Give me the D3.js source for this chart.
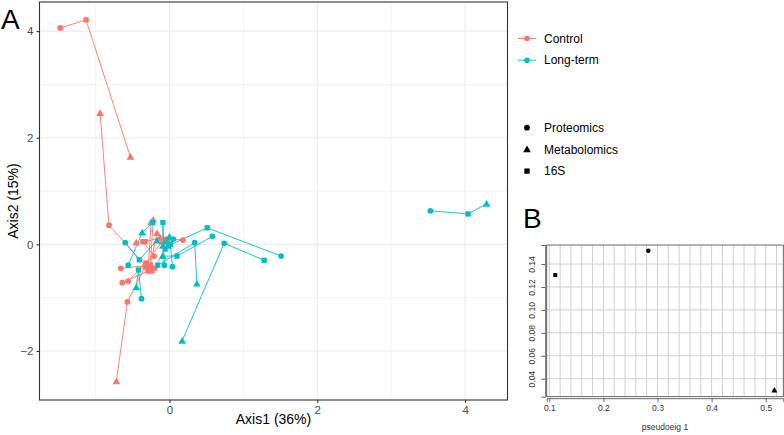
<!DOCTYPE html>
<html><head><meta charset="utf-8">
<script src="https://cdn.jsdelivr.net/npm/d3@7"></script>
<style>body{margin:0;background:#fff}svg{display:block;font-family:"Liberation Sans",Arial,Helvetica,sans-serif}</style>
</head><body><svg id="c" width="784" height="435"></svg>
<script>
// ---------------- data ----------------
const groups = ["Control", "Long-term"];
const groupColors = ["#F8766D", "#00BFC4"];
const omics = ["Proteomics", "Metabolomics", "16S"];
// each sample: [Proteomics [x,y], Metabolomics [x,y], 16S [x,y]]
const controlSamples = [
  [[-1.48, 4.06], [-0.53, 1.64], [-1.13, 4.21]],
  [[-0.82, 0.36], [-0.94, 2.46], [-0.30, -0.44]],
  [[-0.57, -1.08], [-0.72, -2.57], [-0.33, -0.42]],
  [[-0.66, -0.45], [-0.22, 0.46], [-0.26, -0.39]],
  [[-0.64, -0.72], [-0.25, 0.41], [-0.29, -0.50]],
  [[-0.56, -0.69], [-0.10, 0.05], [-0.32, -0.35]],
  [[-0.21, -0.22], [-0.45, 0.03], [-0.36, 0.05]],
  [[0.18, 0.08], [-0.13, 0.12], [-0.33, 0.05]],
  [[-0.04, 0.10], [-0.17, 0.21], [-0.27, -0.44]],
  [[-0.20, -0.45], [-0.02, 0.05], [-0.24, -0.50]]
];
const longtermSamples = [
  [[3.53, 0.63], [4.29, 0.76], [4.04, 0.57]],
  [[0.74, 0.02], [0.17, -1.81], [1.28, -0.30]],
  [[1.51, -0.22], [-0.02, -0.03], [0.51, 0.31]],
  [[0.34, 0.03], [0.37, -0.74], [-0.16, -0.39]],
  [[0.58, 0.15], [-0.09, -0.22], [0.10, -0.22]],
  [[-0.60, 0.03], [-0.17, 0.07], [-0.41, -0.29]],
  [[-0.38, -1.02], [-0.45, -0.81], [-0.42, -0.48]],
  [[-0.56, -0.39], [-0.37, 0.22], [-0.23, 0.41]],
  [[-0.07, -0.39], [-0.09, -0.03], [-0.09, 0.41]],
  [[0.05, 0.10], [-0.05, 0.06], [0.01, 0.00]],
  [[0.04, -0.42], [0.00, 0.14], [-0.06, -0.09]]
];
const axisATicksX = [0, 2, 4];
const axisATicksY = [-2, 0, 2, 4];
const axisAMinorX = [-1, 1, 3];
const axisAMinorY = [-1, 1, 3];
// panel B: pseudo-eigenvalues per omics layer
const pseudoEig1 = [0.283, 0.516, 0.111];
const pseudoEig2 = [0.1516, 0.0296, 0.1304];
const bTicksX = [0.1, 0.2, 0.3, 0.4, 0.5];
const bTicksY = [0.04, 0.06, 0.08, 0.10, 0.12, 0.14];

// ---------------- drawing ----------------
const svg = d3.select("#c");
const shapeSym = [d3.symbolCircle, d3.symbolTriangle, d3.symbolSquare];
const shapeSize = [26, 26, 28];

// Panel A
const A = {l: 39.5, r: 507.5, t: 2, b: 400};
const xA = d3.scaleLinear().domain([-1.76, 4.574]).range([A.l, A.r]);
const yA = d3.scaleLinear().domain([-2.92, 4.546]).range([A.b, A.t]);
const gA = svg.append("g");
gA.append("rect").attr("x", A.l).attr("y", A.t).attr("width", A.r - A.l).attr("height", A.b - A.t).attr("fill", "#fff");
// minor grid
gA.selectAll(".mgx").data(axisAMinorX).join("line").attr("x1", d => xA(d)).attr("x2", d => xA(d)).attr("y1", A.t).attr("y2", A.b).attr("stroke", "#EBEBEB").attr("stroke-width", 0.55);
gA.selectAll(".mgy").data(axisAMinorY).join("line").attr("y1", d => yA(d)).attr("y2", d => yA(d)).attr("x1", A.l).attr("x2", A.r).attr("stroke", "#EBEBEB").attr("stroke-width", 0.55);
gA.selectAll(".Mgx").data(axisATicksX).join("line").attr("x1", d => xA(d)).attr("x2", d => xA(d)).attr("y1", A.t).attr("y2", A.b).attr("stroke", "#EBEBEB").attr("stroke-width", 1.1);
gA.selectAll(".Mgy").data(axisATicksY).join("line").attr("y1", d => yA(d)).attr("y2", d => yA(d)).attr("x1", A.l).attr("x2", A.r).attr("stroke", "#EBEBEB").attr("stroke-width", 1.1);

// lines and points
const allSamples = [controlSamples, longtermSamples];
const line = d3.line().x(d => xA(d[0])).y(d => yA(d[1]));
allSamples.forEach((samples, gi) => {
  samples.forEach(s => {
    const sorted = s.slice().sort((a, b) => a[0] - b[0]);
    gA.append("path").attr("d", line(sorted)).attr("fill", "none").attr("stroke", groupColors[gi]).attr("stroke-width", 0.9);
  });
});
allSamples.forEach((samples, gi) => {
  samples.forEach(s => {
    s.forEach((p, oi) => {
      gA.append("path").attr("d", d3.symbol(shapeSym[oi], shapeSize[oi])())
        .attr("transform", `translate(${xA(p[0])},${yA(p[1]) + (oi === 1 ? 0.6 : 0)})`)
        .attr("fill", groupColors[gi]);
    });
  });
});
gA.append("rect").attr("x", A.l).attr("y", A.t).attr("width", A.r - A.l).attr("height", A.b - A.t).attr("fill", "none").attr("stroke", "#333").attr("stroke-width", 1.1);

// axes A
const axA = d3.axisBottom(xA).tickValues(axisATicksX).tickSize(3).tickPadding(3).tickFormat(d3.format("d"));
const gxA = gA.append("g").attr("transform", `translate(0,${A.b})`).call(axA);
const ayA = d3.axisLeft(yA).tickValues(axisATicksY).tickSize(3).tickPadding(3).tickFormat(d3.format("d"));
const gyA = gA.append("g").attr("transform", `translate(${A.l},0)`).call(ayA);
[gxA, gyA].forEach(g => {
  g.select(".domain").remove();
  g.selectAll(".tick line").attr("stroke", "#333").attr("stroke-width", 1.1);
  g.selectAll(".tick text").attr("fill", "#4D4D4D").attr("font-size", 11.5).attr("font-family", "Liberation Sans, Arial, sans-serif");
});
gA.append("text").attr("x", (A.l + A.r) / 2).attr("y", 424).attr("text-anchor", "middle").attr("font-size", 14).text("Axis1 (36%)");
gA.append("text").attr("transform", `translate(18,${(A.t + A.b) / 2}) rotate(-90)`).attr("text-anchor", "middle").attr("font-size", 14).text("Axis2 (15%)");
svg.append("text").attr("x", 1).attr("y", 29).attr("font-size", 28).text("A");

// Legend
const lg = svg.append("g");
groups.forEach((g, i) => {
  const y = 38.5 + i * 21.7;
  lg.append("line").attr("x1", 518).attr("x2", 536).attr("y1", y).attr("y2", y).attr("stroke", groupColors[i]).attr("stroke-width", 0.9);
  lg.append("circle").attr("cx", 527).attr("cy", y).attr("r", 2.8).attr("fill", groupColors[i]);
  lg.append("text").attr("x", 544).attr("y", y + 4.2).attr("font-size", 12).text(g);
});
omics.forEach((o, i) => {
  const y = 127.7 + i * 21.7;
  lg.append("path").attr("d", d3.symbol(shapeSym[i], shapeSize[i])()).attr("transform", `translate(527,${y + (i === 1 ? 0.6 : 0)})`).attr("fill", "#000");
  lg.append("text").attr("x", 544).attr("y", y + 4.2).attr("font-size", 12).text(o);
});

// Panel B
const B = {l: 546.7, r: 783.3, t: 245, b: 396.7};
const xB = d3.scaleLinear().domain([0.0952, 0.5325]).range([B.l, B.r]);
const yB = d3.scaleLinear().domain([0.0243, 0.1566]).range([B.b, B.t]);
const gB = svg.append("g");
svg.append("text").attr("x", 523).attr("y", 228).attr("font-size", 28).text("B");
const bGridX = d3.range(0, 22).map(i => +(0.1 + i * 0.02).toFixed(2));
gB.selectAll(".bgx").data(bGridX).join("line").attr("x1", d => xB(d)).attr("x2", d => xB(d)).attr("y1", B.t).attr("y2", B.b).attr("stroke", "#CFCFCF").attr("stroke-width", 1);
gB.selectAll(".bgy").data(bTicksY).join("line").attr("y1", d => yB(d)).attr("y2", d => yB(d)).attr("x1", B.l).attr("x2", B.r).attr("stroke", "#CFCFCF").attr("stroke-width", 1);
gB.append("rect").attr("x", B.l).attr("y", B.t).attr("width", B.r - B.l).attr("height", B.b - B.t).attr("fill", "none").attr("stroke", "#444").attr("stroke-width", 0.8);
pseudoEig1.forEach((v, i) => {
  gB.append("path").attr("d", d3.symbol(shapeSym[i], 16)()).attr("transform", `translate(${xB(v)},${yB(pseudoEig2[i])})`).attr("fill", "#000");
});
const axB = d3.axisBottom(xB).tickValues(bTicksX).tickSize(4).tickPadding(3).tickFormat(d3.format(".1f"));
const gxB = gB.append("g").attr("transform", `translate(0,${B.b + 1.5})`).call(axB);
const ayB = d3.axisLeft(yB).tickValues(bTicksY).tickSize(4).tickPadding(3).tickFormat(d3.format(".2f"));
const gyB = gB.append("g").attr("transform", `translate(${B.l - 1.5},0)`).call(ayB);
[gxB, gyB].forEach(g => {
  g.select(".domain").attr("stroke", "#444").attr("stroke-width", 0.8);
  g.selectAll(".tick line").attr("stroke", "#444").attr("stroke-width", 0.8);
  g.selectAll(".tick text").attr("fill", "#333").attr("font-size", 8.5).attr("font-family", "Liberation Sans, Arial, sans-serif");
});
gyB.selectAll(".tick text").attr("transform", "rotate(-90)").attr("text-anchor", "middle").attr("x", 0).attr("y", -10).attr("dy", "0");
gB.append("text").attr("x", (B.l + B.r) / 2).attr("y", 430).attr("text-anchor", "middle").attr("font-size", 8.5).attr("fill", "#333").text("pseudoeig 1");
</script></body></html>
